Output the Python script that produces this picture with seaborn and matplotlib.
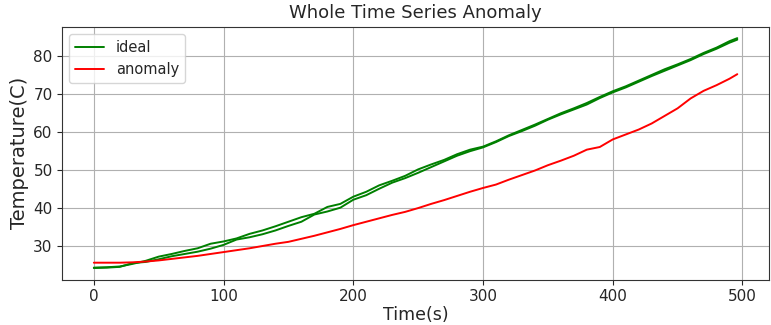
import pandas as pd
import matplotlib
matplotlib.use('Agg')
import matplotlib.pyplot as plt
import seaborn as sns

# Time stamps (s)
time_s = [0, 10, 20, 30, 40, 50, 60, 70, 80, 90,
          100, 110, 120, 130, 140, 150, 160, 170, 180, 190,
          200, 210, 220, 230, 240, 250, 260, 270, 280, 290,
          300, 310, 320, 330, 340, 350, 360, 370, 380, 390,
          400, 410, 420, 430, 440, 450, 460, 470, 480, 490, 496]

# ideal run (two passes, nearly overlapping)
ideal_a = [24.1, 24.2, 24.4, 25.4, 25.7, 26.4, 27.2, 27.8, 28.4, 29.2,
           30.2, 31.6, 32.2, 33.0, 34.0, 35.2, 36.3, 38.2, 39.0, 40.0,
           42.1, 43.3, 45.0, 46.6, 47.8, 49.2, 50.7, 52.2, 53.7, 54.9,
           55.9, 57.3, 58.9, 60.2, 61.6, 63.2, 64.6, 65.9, 67.2, 68.9,
           70.4, 71.7, 73.2, 74.7, 76.1, 77.5, 78.9, 80.5, 81.9, 83.5, 84.3]
ideal_b = [24.2, 24.3, 24.5, 25.2, 26.0, 27.1, 27.8, 28.6, 29.3, 30.5,
           31.1, 31.9, 33.1, 34.0, 35.1, 36.3, 37.5, 38.4, 40.2, 41.0,
           42.9, 44.2, 45.9, 47.1, 48.4, 50.1, 51.4, 52.6, 54.1, 55.3,
           56.1, 57.5, 59.1, 60.5, 61.9, 63.4, 64.9, 66.2, 67.6, 69.2,
           70.7, 72.0, 73.5, 75.0, 76.5, 77.8, 79.2, 80.8, 82.2, 83.9, 84.7]

# anomaly run
anomaly = [25.5, 25.5, 25.5, 25.6, 25.8, 26.1, 26.5, 26.9, 27.3, 27.8,
           28.3, 28.8, 29.3, 29.9, 30.5, 31.0, 31.8, 32.6, 33.5, 34.4,
           35.4, 36.3, 37.2, 38.1, 38.9, 39.9, 41.0, 42.0, 43.1, 44.2,
           45.2, 46.1, 47.4, 48.6, 49.8, 51.2, 52.4, 53.7, 55.3, 56.0,
           58.0, 59.3, 60.6, 62.2, 64.2, 66.2, 68.8, 70.8, 72.3, 74.0, 75.2]

df = pd.concat([
    pd.DataFrame({'time': time_s, 'temp': ideal_a, 'series': 'ideal', 'run': 0}),
    pd.DataFrame({'time': time_s, 'temp': ideal_b, 'series': 'ideal', 'run': 1}),
    pd.DataFrame({'time': time_s, 'temp': anomaly, 'series': 'anomaly', 'run': 2}),
])

sns.set_style('ticks')
plt.rcParams['font.family'] = ['DejaVu Sans']

fig, ax = plt.subplots(figsize=(7.71, 3.25), dpi=100)
fig.subplots_adjust(left=0.080, right=0.998, top=0.918, bottom=0.140)

sns.lineplot(data=df, x='time', y='temp', hue='series', units='run',
             estimator=None, palette={'ideal': 'green', 'anomaly': 'red'},
             linewidth=1.4, ax=ax)

ax.grid(True, color='#b0b0b0', linewidth=0.8)
ax.set_xticks([0, 100, 200, 300, 400, 500])
ax.set_yticks([30, 40, 50, 60, 70, 80])
ax.tick_params(labelsize=11, pad=3)
ax.set_title('Whole Time Series Anomaly', fontsize=13)
ax.set_xlabel('Time(s)', fontsize=12.5, labelpad=2)
ax.set_ylabel('Temperature(C)', fontsize=14, labelpad=3)
ax.legend(loc='upper left', fontsize=10.5, title=None)
for s in ax.spines.values():
    s.set_color('#333333')

plt.savefig('out.png', dpi=100)
